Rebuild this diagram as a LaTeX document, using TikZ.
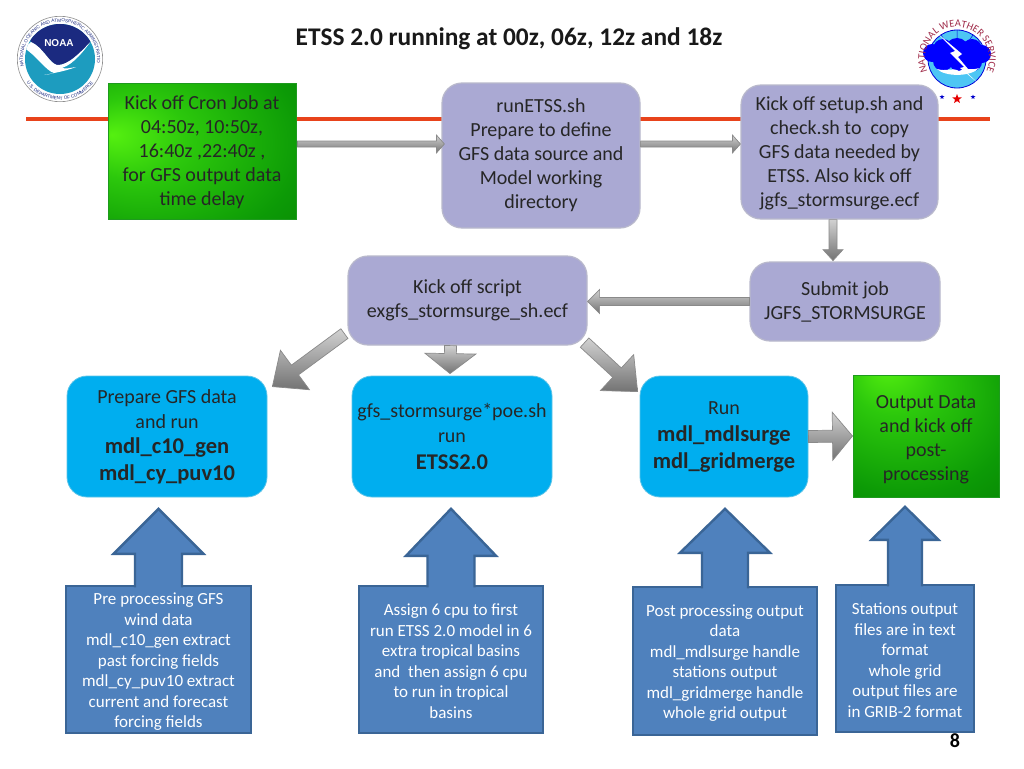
\documentclass[tikz,border=0pt]{standalone}
\usepackage{fontspec}
\setmainfont{Carlito}
\setsansfont{Liberation Sans}
\usetikzlibrary{calc,shapes.geometric,decorations.text}
\definecolor{rline}{HTML}{E8431B}
\definecolor{lav}{HTML}{AAA9D3}
\definecolor{lavb}{HTML}{B9B9CC}
\definecolor{cyanbox}{HTML}{00AEEF}
\definecolor{cyanb}{HTML}{5CC4E8}
\definecolor{steel}{HTML}{4F81BD}
\definecolor{steelb}{HTML}{3A6596}
\definecolor{greenb}{HTML}{1E9A1E}
\definecolor{navy}{HTML}{1B2A80}
\definecolor{teal}{HTML}{1D9CBF}
\definecolor{nwsred}{HTML}{A02C4A}
\definecolor{ggrey}{HTML}{8A8A8A}
\definecolor{gl0}{HTML}{55F010}
\definecolor{gl1}{HTML}{2CC80C}
\definecolor{gl2}{HTML}{0C9A06}
\definecolor{gl3}{HTML}{006A00}
\pgfdeclareradialshading{glowA}{\pgfpoint{-24bp}{6bp}}{
 color(0bp)=(gl0);
 color(15bp)=(gl1);
 color(38bp)=(gl2);
 color(70bp)=(gl3)}
\pgfdeclareradialshading{glowB}{\pgfpoint{-14bp}{30bp}}{
 color(0bp)=(gl0);
 color(15bp)=(gl1);
 color(38bp)=(gl2);
 color(70bp)=(gl3)}
\tikzset{
 x=1pt,y=-1pt,
 txt/.style={font=\fontsize{20}{24}\selectfont,align=center,text=black!85,inner sep=0pt},
 lavbox/.style={txt,rounded corners=20pt,draw=lavb,line width=1.2pt,fill=lav},
 cyanbx/.style={txt,rounded corners=20pt,draw=cyanb,line width=.8pt,fill=cyanbox},
 greenbx/.style={txt,draw=greenb,line width=1pt},
 notebx/.style={font=\fontsize{17}{20.5}\selectfont,align=center,text=white,inner sep=0pt,draw=steelb,line width=2.4pt,fill=steel},
 grayarrow/.style={draw=ggrey,line width=.7pt,top color=black!18,bottom color=black!55},
}
\newcommand{\bfl}[1]{{\fontsize{22.5}{27}\selectfont\bfseries #1}}
\newcommand{\topstrut}[1]{\rule{0pt}{#1}}
% #1 from, #2 tip, #3 half shaft, #4 half head, #5 head length
\newcommand{\blockarrow}[5]{%
 \coordinate (ba) at (#1);
 \coordinate (bt) at (#2);
 \coordinate (hb) at ($(bt)!#5pt!(ba)$);
 \path[grayarrow] ($(ba)!#3pt!90:(bt)$) -- ($(hb)!#3pt!90:(bt)$) -- ($(hb)!#4pt!90:(bt)$) -- (bt)
  -- ($(hb)!#4pt!-90:(bt)$) -- ($(hb)!#3pt!-90:(bt)$) -- ($(ba)!#3pt!-90:(bt)$) -- cycle;
}
% up arrow merging into its box: filled closed, stroked open at the foot
\newcommand{\bluearrow}[5]{%
 \coordinate (ba) at ($(#1)+(0,2.6)$);
 \coordinate (bt) at (#2);
 \coordinate (hb) at ($(bt)!#5pt!(ba)$);
 \fill[steel] ($(ba)!#3pt!90:(bt)$) -- ($(hb)!#3pt!90:(bt)$) -- ($(hb)!#4pt!90:(bt)$) -- (bt)
  -- ($(hb)!#4pt!-90:(bt)$) -- ($(hb)!#3pt!-90:(bt)$) -- ($(ba)!#3pt!-90:(bt)$) -- cycle;
 \draw[steelb,line width=2.4pt,line join=miter] ($(ba)!#3pt!90:(bt)$) -- ($(hb)!#3pt!90:(bt)$) -- ($(hb)!#4pt!90:(bt)$) -- (bt)
  -- ($(hb)!#4pt!-90:(bt)$) -- ($(hb)!#3pt!-90:(bt)$) -- ($(ba)!#3pt!-90:(bt)$);
}
\begin{document}
\begin{tikzpicture}
\useasboundingbox (0,0) rectangle (1024,768);
\fill[white] (0,0) rectangle (1024,768);
\coordinate (ruleL) at (26,119);
\coordinate (ruleR) at (990,119);
\draw[rline,line width=3.4pt] (ruleL) -- (ruleR);

% NOAA logo
\begin{scope}[shift={(60,59)},x=1pt,y=1pt]
 \fill[white] (0,0) circle (43);
 \draw[black!45,line width=.6pt] (0,0) circle (42.7);
 \fill[teal] (0,0) circle (35);
 \begin{scope}
  \clip (0,0) circle (35);
  \fill[navy] (-29,17) .. controls (-17,12) and (-11,-4) .. (-3,-6)
     .. controls (8,-7) and (22,8) .. (33,20) -- (36,40) -- (-36,40) -- cycle;
  \fill[white] (-36,11) .. controls (-24,4) and (-14,-12) .. (-6,-14)
     .. controls (-10,-15) and (-13,-16) .. (-16,-16)
     .. controls (-6,-14) and (6,-12) .. (16,-8)
     .. controls (10,-9) and (6,-10) .. (2,-9)
     .. controls (14,-5) and (24,8) .. (34,22) -- (33,20)
     .. controls (22,8) and (8,-7) .. (-3,-6)
     .. controls (-11,-4) and (-17,12) .. (-29,17) -- cycle;
 \end{scope}
 \node[font=\sffamily\bfseries\fontsize{10}{10}\selectfont,text=white,inner sep=0pt] (noaaname) at (-1,16) {NOAA};
 \path[decorate,decoration={text along path,text align=center,
   text={|\sffamily\fontsize{4.6}{5}\selectfont\color{navy}|NATIONAL OCEANIC AND ATMOSPHERIC ADMINISTRATION}}]
   (188:37) arc (188:-8:37);
 \path[decorate,decoration={text along path,text align=center,
   text={|\sffamily\fontsize{4.6}{5}\selectfont\color{navy}|U.S. DEPARTMENT OF COMMERCE}}]
   (205:41) arc (205:335:41);
\end{scope}

% NWS logo
\begin{scope}[shift={(957,59)},x=1pt,y=1pt]
 \fill[cyan!70!white] (0,0) circle (29);
 \draw[blue!85!black,line width=.8pt] (0,0) circle (29);
 \draw[blue!85!black,line width=.5pt] (0,29) -- (0,17) (-16,24) -- (-9,14) (16,24) -- (9,14);
 \fill[blue] (-25,6) circle (9) (-14,10) circle (10) (0,9) circle (12) (15,10) circle (10) (25,5) circle (9)
   (-14,-2) circle (10) (3,-2) circle (11) (16,-3) circle (9);
 \fill[white] (-20,-10) .. controls (-10,-13) and (-5,-8) .. (2,-12) .. controls (8,-8) and (14,-12) .. (22,-9)
    .. controls (14,-18) and (-12,-18) .. (-20,-10);
 \fill[white] (-20,26) -- (-2,8) -- (-7,6) -- (7,-8) -- (3,-9) -- (21,-24) -- (8,-12) -- (11,-10) -- (1,2) -- (5,5) -- cycle;
 \path[decorate,decoration={text along path,text align=center,
   text={|\fontsize{10.4}{11}\selectfont\color{nwsred}|NATIONAL WEATHER SERVICE}}]
   (216:32) arc (216:-36:32);
 \node[star,star points=5,star point ratio=2.4,fill=blue!80!black,minimum size=5pt,inner sep=0pt] (st1) at (-15,-38) {};
 \node[star,star points=5,star point ratio=2.4,fill=red!90!black,minimum size=10pt,inner sep=0pt] (st2) at (0,-40) {};
 \node[star,star points=5,star point ratio=2.4,fill=blue!80!black,minimum size=5pt,inner sep=0pt] (st3) at (16,-38) {};
\end{scope}

\node[font=\fontsize{25.4}{28}\selectfont\bfseries,text=black!90,inner sep=0pt] (title) at (509,39) {ETSS 2.0 running at 00z, 06z, 12z and 18z};

% top row
\node[greenbx,shading=glowA,minimum width=188pt,minimum height=136pt] (cron) at (202,151) {\topstrut{17pt}Kick off Cron Job at\\04:50z, 10:50z,\\16:40z ,22:40z ,\\for GFS output data\\time delay};
\node[lavbox,minimum width=198pt,minimum height=145pt] (runetss) at (541,155.5) {runETSS.sh\\Prepare to define\\GFS data source and\\Model working\\directory};
\node[lavbox,minimum width=197pt,minimum height=134pt] (setup) at (839.5,152) {\topstrut{17pt}Kick off setup.sh and\\check.sh to\ \ copy\\GFS data needed by\\ETSS. Also kick off\\jgfs\_stormsurge.ecf};

% second row
\node[lavbox,minimum width=239pt,minimum height=89pt] (script) at (467.5,300.5) {Kick off script\\exgfs\_stormsurge\_sh.ecf};
\node[lavbox,minimum width=190pt,minimum height=79pt] (submit) at (845,301.5) {Submit job\\JGFS\_STORMSURGE};

% third row
\node[cyanbx,minimum width=200pt,minimum height=121pt] (prep) at (167,436.5) {Prepare GFS data\\[1pt]and run\\[1pt]\bfl{mdl\_c10\_gen}\\[3pt]\bfl{mdl\_cy\_puv10}};
\node[cyanbx,minimum width=200pt,minimum height=121pt] (poe) at (452,436.5) {gfs\_stormsurge*poe.sh\\[1pt]run\\[3pt]\bfl{ETSS2.0}};
\node[cyanbx,minimum width=168pt,minimum height=121pt] (runbox) at (724,436.5) {Run\\[3pt]\bfl{mdl\_mdlsurge}\\[3pt]\bfl{mdl\_gridmerge}};
\node[greenbx,shading=glowB,minimum width=146pt,minimum height=122pt] (output) at (926,436) {\topstrut{20pt}Output Data\\and kick off\\post-\\processing};

% bottom row
\node[notebx,minimum width=185pt,minimum height=147pt] (n1) at (158.5,659.5) {\topstrut{16pt}Pre processing GFS\\wind data\\mdl\_c10\_gen extract\\past forcing fields\\mdl\_cy\_puv10 extract\\current and forecast\\forcing fields};
\node[notebx,minimum width=184pt,minimum height=147pt] (n2) at (451,659.5) {\topstrut{15pt}Assign 6 cpu to first\\run ETSS 2.0 model in 6\\extra tropical basins\\and\ \ then assign 6 cpu\\to run in tropical\\basins};
\node[notebx,minimum width=184pt,minimum height=148pt] (n3) at (725,661) {\topstrut{16pt}Post processing output\\data\\mdl\_mdlsurge handle\\stations output\\mdl\_gridmerge handle\\whole grid output};
\node[notebx,minimum width=138pt,minimum height=147pt] (n4) at (905,658.5) {\topstrut{15pt}Stations output\\files are in text\\format\\whole grid\\output files are\\in GRIB-2 format};

\node[font=\fontsize{20}{22}\selectfont\bfseries,text=black,inner sep=0pt] (pageno) at (955,741) {8};

% gray block arrows
\blockarrow{$(cron.east)+(1,-7)$}{$(runetss.west)+(3,-11.5)$}{3}{9}{8}
\blockarrow{$(runetss.east)+(0,-11.5)$}{$(setup.west)+(0,-8)$}{3}{9}{8}
\blockarrow{$(setup.south)+(-6.5,0)$}{$(setup.south)+(-6.5,41)$}{4}{10}{11}
\blockarrow{submit.west}{$(script.east)+(0,1)$}{4}{12}{12}
\blockarrow{$(script.south west)+(-3,-12)$}{$(prep.north east)+(5,11)$}{6}{24.5}{28}
\blockarrow{$(script.south)+(-17,0)$}{$(poe.north)+(-2,-2)$}{6}{25.5}{20}
\blockarrow{$(script.south east)+(-3,-3)$}{$(runbox.north west)+(-2,16)$}{6.3}{24.5}{28}
\blockarrow{runbox.east}{output.west}{6}{24}{20}

% blue up arrows
\bluearrow{n1.north}{$(n1.north)+(0,-76)$}{23.5}{45}{45}
\bluearrow{n2.north}{$(n2.north)+(0,-76)$}{23.5}{45}{47}
\bluearrow{n3.north}{$(n3.north)+(0,-77)$}{23}{45}{44}
\bluearrow{n4.north}{$(n4.north)+(0,-77)$}{17}{33.5}{33}
\end{tikzpicture}
\end{document}
